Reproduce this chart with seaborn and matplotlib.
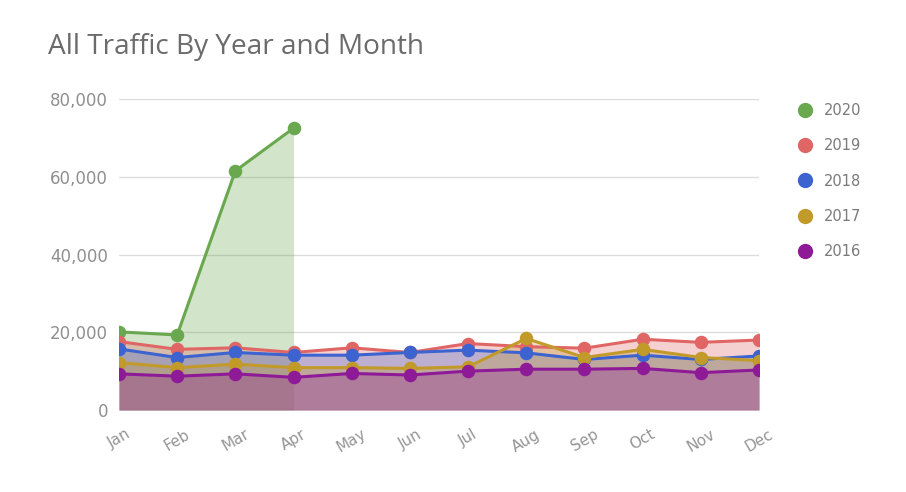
import matplotlib
matplotlib.use("Agg")
import matplotlib.pyplot as plt
from matplotlib.lines import Line2D
from matplotlib.patches import Rectangle
import seaborn as sns
import pandas as pd
import numpy as np

months = ["Jan", "Feb", "Mar", "Apr", "May", "Jun", "Jul", "Aug", "Sep", "Oct", "Nov", "Dec"]
years = ["2020", "2019", "2018", "2017", "2016"]
v2020 = [20100, 19300, 61500, 72500]
v2019 = [17600, 15600, 16000, 14800, 16000, 14800, 17100, 16300, 15900, 18200, 17400, 18000]
v2018 = [15700, 13500, 14800, 14100, 14100, 14800, 15400, 14700, 13000, 14100, 13000, 13900]
v2017 = [12200, 10900, 11800, 10900, 10900, 10700, 11100, 18400, 13500, 15600, 13500, 12700]
v2016 = [9300, 8700, 9300, 8400, 9400, 9000, 10000, 10500, 10500, 10700, 9600, 10300]
series = {"2020": v2020, "2019": v2019, "2018": v2018, "2017": v2017, "2016": v2016}
colors = {"2020": "#6aa84f", "2019": "#e06666", "2018": "#3c63cf",
          "2017": "#c29a2a", "2016": "#8e1a98"}

rows = []
for y in years:
    for i, v in enumerate(series[y]):
        rows.append({"year": y, "month": months[i], "idx": i, "value": v})
df = pd.DataFrame(rows)

sns.set_theme(style="white")
plt.rcParams["font.family"] = ["DejaVu Sans"]

fig = plt.figure(figsize=(9.06, 4.92), dpi=100)
ax = fig.add_axes([119 / 906, 1 - 410 / 492, (759 - 119) / 906, (410 - 99) / 492])

for y in years:
    d = df[df.year == y]
    ax.fill_between(d["idx"], 0, d["value"], color=colors[y], alpha=0.3, lw=0, zorder=2)

sns.lineplot(data=df, x="idx", y="value", hue="year", hue_order=years, palette=colors,
             linewidth=2.2, legend=False, ax=ax, zorder=3)
clip_rect = Rectangle((0, 0), 1, 1, transform=ax.transAxes, facecolor="none", edgecolor="none")
ax.add_patch(clip_rect)
for y in years:
    d = df[df.year == y]
    sc = ax.scatter(d["idx"], d["value"], s=95, color=colors[y], linewidths=0, zorder=4)
    sc.set_clip_path(clip_rect)

ax.set_xlim(0, 11)
ax.set_ylim(0, 80000)
ax.set_yticks([0, 20000, 40000, 60000, 80000])
ax.set_yticklabels(["0", "20,000", "40,000", "60,000", "80,000"])
ax.set_xticks(range(12))
ax.set_xticklabels(months, rotation=30, ha="center", fontsize=11, color="#959595")
for lab in ax.get_yticklabels():
    lab.set_fontsize(12)
    lab.set_color("#8f8f8f")
ax.tick_params(axis="both", length=0)
ax.tick_params(axis="y", pad=8)
ax.tick_params(axis="x", pad=12)
ax.grid(axis="y", color="#dcdcdc", lw=1)
ax.set_axisbelow(True)
for s in ax.spines.values():
    s.set_visible(False)
ax.axhline(0, color="#bbbbbb", lw=1, zorder=1)
ax.set_xlabel("")
ax.set_ylabel("")

fig.text(48 / 906, 1 - 47 / 492, "All Traffic By Year and Month", fontsize=20.2,
         color="#6b6b6b", va="center", ha="left", family=["Open Sans", "DejaVu Sans"])

handles = [Line2D([], [], marker="o", linestyle="none", markersize=11,
                  markerfacecolor=colors[y], markeredgewidth=0) for y in years]
leg = fig.legend(handles, years, loc="upper left", bbox_to_anchor=(798 / 906, 1 - 103 / 492),
                 frameon=False, fontsize=10.5, labelspacing=1.39, handletextpad=0.75,
                 handlelength=1.0, borderaxespad=0, borderpad=0)
for t in leg.get_texts():
    t.set_color("#7a7a7a")

fig.savefig("out.png", dpi=100)
